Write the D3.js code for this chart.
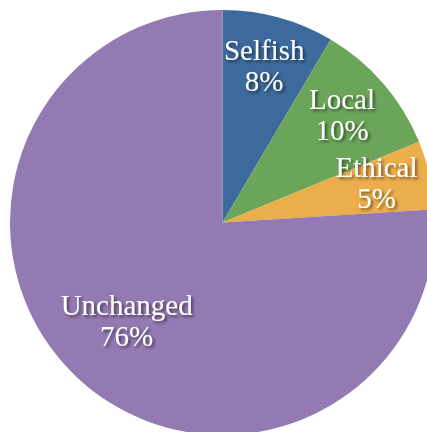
<!DOCTYPE html>
<html><head><meta charset="utf-8">
<script src="https://cdn.jsdelivr.net/npm/d3@7"></script>
<style>html,body{margin:0;padding:0;background:#fff;overflow:hidden}</style>
</head><body>
<svg id="c" width="427" height="432"></svg>
<script>
const categories = ["Selfish", "Local", "Ethical", "Unchanged"];
const values = [8.5, 10.3, 5.2, 76.0];
const percentLabels = ["8%", "10%", "5%", "76%"];
const colors = ["#3C6A9D", "#6BA55A", "#ECAD4B", "#937AB2"];

const svg = d3.select("#c");
const cx = 222.5, cy = 222.5, R = 212.5;
const defs = svg.append("defs");
const f = defs.append("filter").attr("id","sh").attr("x","-20%").attr("y","-20%").attr("width","140%").attr("height","140%");
f.append("feDropShadow").attr("dx",2).attr("dy",2).attr("stdDeviation",1.5).attr("flood-color","#000").attr("flood-opacity",0.55);

const data = categories.map((c,i)=>({cat:c, v:values[i], lab:percentLabels[i], col:colors[i]}));
const pie = d3.pie().value(d=>d.v).sort(null);
const arcs = pie(data);
const arc = d3.arc().innerRadius(0).outerRadius(R);
const labelR = d => (d.endAngle - d.startAngle) > Math.PI ? 140 : 158;
const g = svg.append("g").attr("transform",`translate(${cx},${cy})`);
g.selectAll("path").data(arcs).enter().append("path")
  .attr("d",arc).attr("fill",d=>d.data.col);
const t = g.selectAll("text").data(arcs).enter().append("text")
  .attr("transform",d=>{const r=labelR(d);const c=d3.arc().innerRadius(r).outerRadius(r).centroid(d);return `translate(${c[0]},${c[1]})`;})
  .attr("text-anchor","middle")
  .attr("font-family","Liberation Serif, Times New Roman, serif")
  .attr("font-size",29)
  .attr("fill","#fff")
  .attr("filter","url(#sh)");
t.append("tspan").attr("x",0).attr("y",-10).text(d=>d.data.cat);
t.append("tspan").attr("x",0).attr("y",21).text(d=>d.data.lab);
</script>
</body></html>
